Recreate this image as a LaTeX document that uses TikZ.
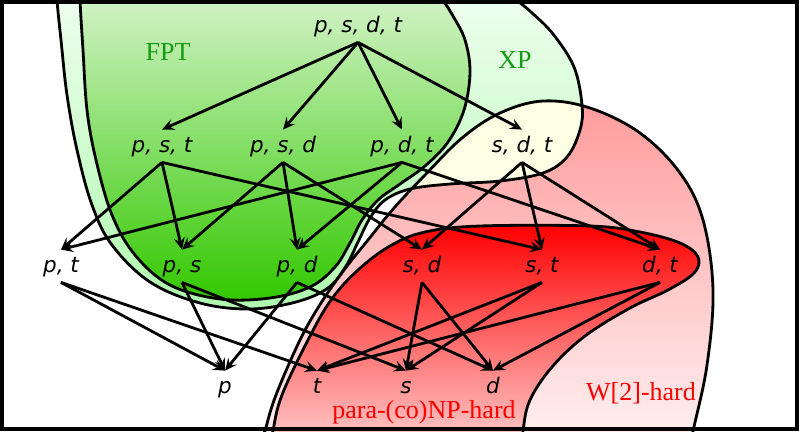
\documentclass[tikz,border=0pt]{standalone}
\usepackage{fontspec}
\usetikzlibrary{arrows.meta}
\newfontfamily\labfont{DejaVu Sans}
\newfontfamily\classfont{Liberation Serif}
\definecolor{fptgreen}{RGB}{51,200,0}
\definecolor{xpgreen}{RGB}{175,250,175}
\definecolor{wpink}{RGB}{255,155,155}
\definecolor{sdtyellow}{RGB}{252,255,228}
\definecolor{classgreen}{RGB}{20,155,20}
\newcommand{\fptregion}{plot[smooth cycle,tension=0.6] coordinates {(79,-40) (80,0) (83,50) (87,110) (96,160) (112,215) (135,255) (170,285) (220,299) (270,298) (310,287) (335,267) (350,243) (362,220) (378,200) (400,184) (425,166) (448,142) (464,110) (470,72) (465,40) (453,16) (440,-5) (420,-40) (250,-90)}}
\newcommand{\xpregion}{plot[smooth cycle,tension=0.6] coordinates {(55,-40) (57,0) (61,40) (67,95) (77,150) (92,205) (112,245) (150,282) (200,303) (250,309) (296,302) (328,288) (346,266) (358,242) (370,218) (385,200) (410,189) (450,184) (500,181) (543,173) (567,157) (580,130) (582,105) (574,67) (553,34) (531,12) (508,-8) (480,-40) (270,-90)}}
\newcommand{\wtworegion}{plot[smooth cycle,tension=0.6] coordinates {(255,470) (265,431) (276,395) (300,340) (321,303) (344,270) (368,240) (394,208) (425,175) (462,138) (500,113) (543,101) (590,108) (640,133) (680,173) (703,220) (713,290) (707,365) (693,431) (684,470) (480,500)}}
\newcommand{\pararegion}{plot[smooth cycle,tension=0.6] coordinates {(268,470) (273,431) (282,395) (308,340) (331,300) (358,270) (390,246) (425,232) (480,226) (590,226) (640,232) (680,243) (698,257) (694,273) (668,290) (630,308) (585,336) (552,367) (530,400) (523,431) (520,470) (400,500)}}
\tikzset{
  param/.style={font=\labfont\itshape\fontsize{21.5}{26}\selectfont,
    text height=21pt, text depth=9pt, inner sep=0pt, anchor=base},
  sink/.style={text depth=0pt},
  cls/.style={font=\classfont\fontsize{26}{30}\selectfont, inner sep=0pt, anchor=base},
  border/.style={line width=2.8pt}
}

\begin{document}
\begin{tikzpicture}[x=1pt,y=-1pt,line width=2.8pt,
    >={Stealth[length=12pt,width=11pt,inset=4.5pt]}]
  \useasboundingbox (0,0) rectangle (799,431);
  \begin{scope}
    \clip (0,0) rectangle (799,431);
    \shade[top color=white,bottom color=xpgreen] \xpregion;
    \shade[top color=white,bottom color=fptgreen] \fptregion;
    \shade[top color=wpink,bottom color=white] \wtworegion;
    \shade[top color=red,bottom color=white] \pararegion;
    \begin{scope}
      \clip \xpregion;
      \fill[sdtyellow] \wtworegion;
    \end{scope}
    \draw[border] \xpregion;
    \draw[border] \fptregion;
    \draw[border] \wtworegion;
    \draw[border] \pararegion;
  \end{scope}
  \draw[line width=3.6pt] (1.8,1.8) rectangle (797.2,429.2);

  \node[cls,text=classgreen] at (168,60) {FPT};
  \node[cls,text=classgreen] at (515,68) {XP};
  \node[cls,text=red] at (641,400) {W[2]-hard};
  \node[cls,text=red] at (424,418) {para-(co)NP-hard};

  \node[param] (pstd) at (358,32) {p, s, d, t};
  \node[param] (pst) at (162,152) {p, s, t};
  \node[param] (psd) at (283,152) {p, s, d};
  \node[param] (pdt) at (402,152) {p, d, t};
  \node[param] (sdt) at (522,152) {s, d, t};
  \node[param] (pt) at (61,272) {p, t};
  \node[param] (ps) at (182,272) {p, s};
  \node[param] (pd) at (297,272) {p, d};
  \node[param] (sd) at (422,272) {s, d};
  \node[param] (st) at (542,272) {s, t};
  \node[param] (dt) at (660,272) {d, t};
  \node[param,sink] (p) at (225,393) {p};
  \node[param,sink] (t) at (317,393) {t};
  \node[param,sink] (s) at (406,393) {s};
  \node[param,sink] (d) at (493,393) {d};

  \draw[->] (pstd.south) -- (pst.north);
  \draw[->] (pstd.south) -- (psd.north);
  \draw[->] (pstd.south) -- (pdt.north);
  \draw[->] (pstd.south) -- (sdt.north);
  \draw[->] (pst.south) -- (pt.north);
  \draw[->] (pst.south) -- (ps.north);
  \draw[->] (pst.south) -- (st.north);
  \draw[->] (psd.south) -- (ps.north);
  \draw[->] (psd.south) -- (pd.north);
  \draw[->] (psd.south) -- (sd.north);
  \draw[->] (pdt.south) -- (pt.north);
  \draw[->] (pdt.south) -- (pd.north);
  \draw[->] (pdt.south) -- (dt.north);
  \draw[->] (sdt.south) -- (sd.north);
  \draw[->] (sdt.south) -- (st.north);
  \draw[->] (sdt.south) -- (dt.north);
  \draw[->] (pt.south) -- (p.north);
  \draw[->] (pt.south) -- (t.north);
  \draw[->] (ps.south) -- (p.north);
  \draw[->] (ps.south) -- (s.north);
  \draw[->] (pd.south) -- (p.north);
  \draw[->] (pd.south) -- (d.north);
  \draw[->] (sd.south) -- (s.north);
  \draw[->] (sd.south) -- (d.north);
  \draw[->] (st.south) -- (s.north);
  \draw[->] (st.south) -- (t.north);
  \draw[->] (dt.south) -- (d.north);
  \draw[->] (dt.south) -- (t.north);
\end{tikzpicture}
\end{document}
